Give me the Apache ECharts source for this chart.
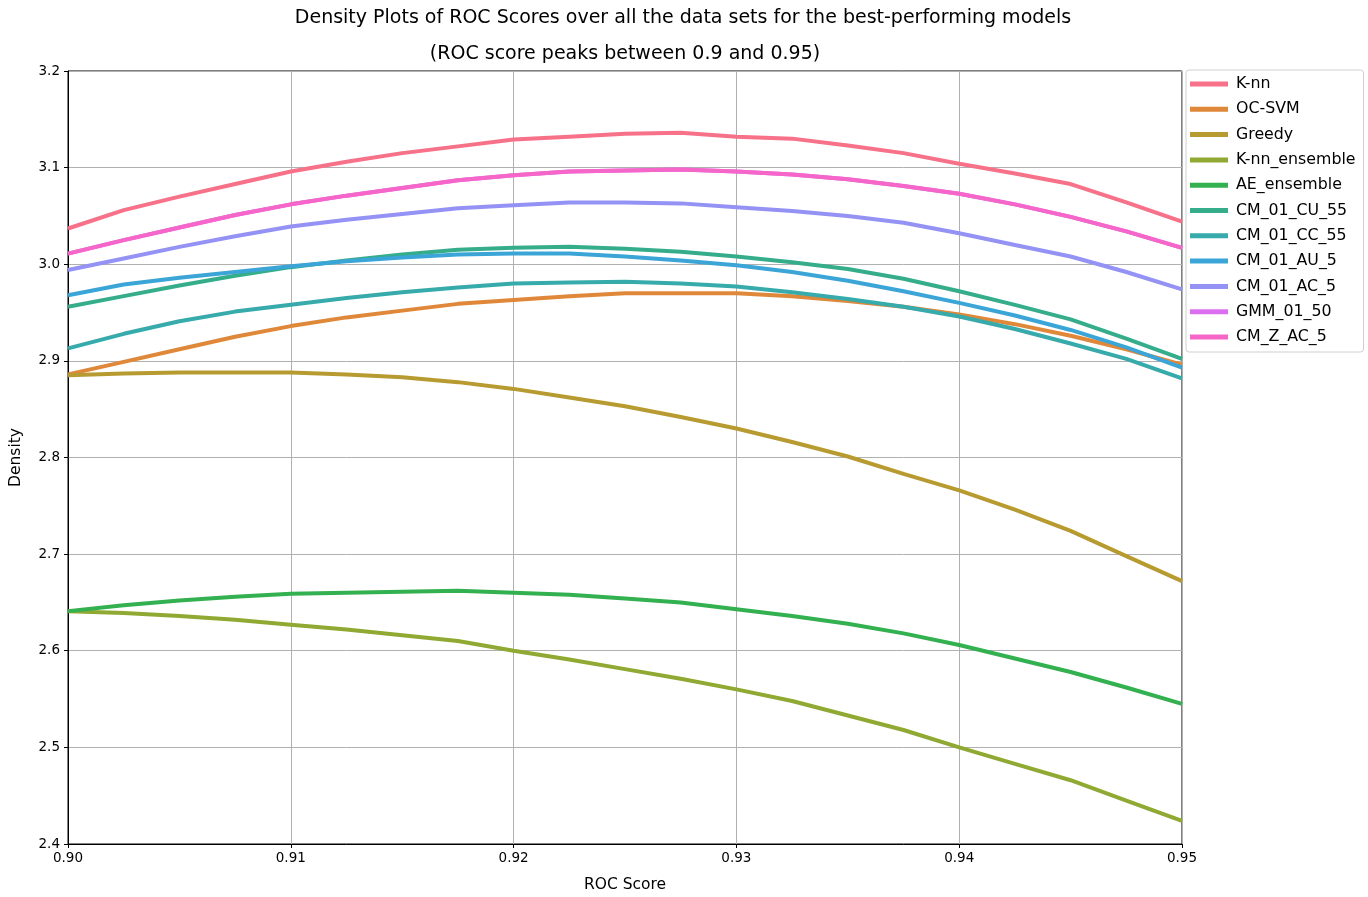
<!DOCTYPE html>
<html>
<head>
<meta charset="utf-8">
<script src="https://cdn.jsdelivr.net/npm/echarts@6/dist/echarts.min.js"></script>
<style>
html,body{margin:0;padding:0;background:#fff;}
#chart{width:1368px;height:897px;}
</style>
</head>
<body>
<div id="chart"></div>
<script>
// ROC score grid (x values)
const xValues = [0.9000,0.9025,0.9050,0.9075,0.9100,0.9125,0.9150,0.9175,0.9200,0.9225,0.9250,0.9275,0.9300,0.9325,0.9350,0.9375,0.9400,0.9425,0.9450,0.9475,0.9500];

const seriesNames = ["K-nn","OC-SVM","Greedy","K-nn_ensemble","AE_ensemble","CM_01_CU_55","CM_01_CC_55","CM_01_AU_5","CM_01_AC_5","GMM_01_50","CM_Z_AC_5"];

const knn        = [3.037,3.056,3.070,3.083,3.096,3.106,3.115,3.122,3.129,3.132,3.135,3.136,3.132,3.130,3.123,3.115,3.104,3.094,3.083,3.064,3.044];
const ocsvm      = [2.886,2.899,2.912,2.925,2.936,2.945,2.952,2.959,2.963,2.967,2.970,2.970,2.970,2.967,2.962,2.956,2.948,2.938,2.926,2.912,2.896];
const greedy     = [2.885,2.887,2.888,2.888,2.888,2.886,2.883,2.878,2.871,2.862,2.853,2.842,2.830,2.816,2.801,2.783,2.766,2.746,2.724,2.698,2.672];
const knnEns     = [2.641,2.639,2.636,2.632,2.627,2.622,2.616,2.610,2.600,2.591,2.581,2.571,2.560,2.548,2.533,2.518,2.500,2.483,2.466,2.445,2.424];
const aeEns      = [2.641,2.647,2.652,2.656,2.659,2.660,2.661,2.662,2.660,2.658,2.654,2.650,2.643,2.636,2.628,2.618,2.606,2.592,2.578,2.562,2.545];
const cmCU55     = [2.956,2.967,2.978,2.988,2.997,3.004,3.010,3.015,3.017,3.018,3.016,3.013,3.008,3.002,2.995,2.985,2.972,2.958,2.943,2.923,2.902];
const cmCC55     = [2.913,2.928,2.941,2.951,2.958,2.965,2.971,2.976,2.980,2.981,2.982,2.980,2.977,2.971,2.964,2.956,2.946,2.933,2.918,2.902,2.882];
const cmAU5      = [2.968,2.979,2.986,2.992,2.998,3.003,3.007,3.010,3.011,3.011,3.008,3.004,2.999,2.992,2.983,2.972,2.960,2.947,2.932,2.914,2.893];
const cmAC5      = [2.994,3.006,3.018,3.029,3.039,3.046,3.052,3.058,3.061,3.064,3.064,3.063,3.059,3.055,3.050,3.043,3.032,3.020,3.008,2.992,2.974];
const gmm0150    = [3.011,3.025,3.038,3.051,3.062,3.071,3.079,3.087,3.092,3.096,3.097,3.098,3.096,3.093,3.088,3.081,3.073,3.062,3.049,3.034,3.017];
const cmZAC5     = [3.011,3.025,3.038,3.051,3.062,3.071,3.079,3.087,3.092,3.096,3.097,3.098,3.096,3.093,3.088,3.081,3.073,3.062,3.049,3.034,3.017];

const seriesValues = [knn, ocsvm, greedy, knnEns, aeEns, cmCU55, cmCC55, cmAU5, cmAC5, gmm0150, cmZAC5];
const colors = ["#f77189","#e0883a","#b79b31","#8fa933","#33b04f","#35ad8b","#37aaab","#3aa5d6","#9492f4","#dc6ff0","#f666c8"];

const yTicks = [2.4, 3.2, 0.1];
const xTicks = [0.90, 0.95, 0.01];

const FONT = "DejaVu Sans";

const chart = echarts.init(document.getElementById('chart'), null, {renderer: 'canvas'});

const series = seriesNames.map((name, i) => ({
  name: name,
  type: 'line',
  data: xValues.map((x, j) => [x, seriesValues[i][j]]),
  showSymbol: false,
  symbol: 'none',
  smooth: false,
  lineStyle: {width: 4, color: colors[i]},
  itemStyle: {color: colors[i]},
  emphasis: {disabled: true},
  animation: false
}));

const option = {
  backgroundColor: '#ffffff',
  animation: false,
  textStyle: {fontFamily: FONT},
  graphic: [
    {type: 'text', x: 683, y: 18, silent: true,
     style: {text: 'Density Plots of ROC Scores over all the data sets for the best-performing models',
             fill: '#000', font: '19px "DejaVu Sans"', textAlign: 'center', textVerticalAlign: 'middle'}},
    {type: 'text', x: 625, y: 54, silent: true,
     style: {text: '(ROC score peaks between 0.9 and 0.95)',
             fill: '#000', font: '19px "DejaVu Sans"', textAlign: 'center', textVerticalAlign: 'middle'}}
  ],
  grid: {left: 68, right: 186, top: 71, bottom: 53, outerBoundsMode: 'none', containLabel: false,
         show: true, borderColor: '#000', borderWidth: 1, backgroundColor: 'transparent'},
  legend: {
    orient: 'vertical',
    left: 1186, top: 70,
    data: seriesNames,
    icon: 'rect',
    itemWidth: 38, itemHeight: 5,
    itemGap: 9.3,
    padding: [6, 8, 7, 4],
    borderColor: '#d0d0d0', borderWidth: 1, borderRadius: 3,
    backgroundColor: '#fff',
    textStyle: {fontFamily: FONT, fontSize: 15.8, color: '#000', padding: [0,0,0,3]},
    selectedMode: false
  },
  xAxis: {
    type: 'value',
    min: xTicks[0], max: xTicks[1], interval: xTicks[2],
    name: 'ROC Score', nameLocation: 'middle', nameGap: 33,
    nameTextStyle: {fontFamily: FONT, fontSize: 15.5, color: '#000'},
    axisLine: {show: true, onZero: false, lineStyle: {color: '#000', width: 1}},
    axisTick: {show: true, length: 4, lineStyle: {color: '#000'}},
    axisLabel: {fontFamily: FONT, fontSize: 13.5, color: '#000', margin: 7, formatter: v => v.toFixed(2)},
    splitLine: {show: true, lineStyle: {color: '#b0b0b0', width: 1}}
  },
  yAxis: {
    type: 'value',
    min: yTicks[0], max: yTicks[1], interval: yTicks[2],
    name: 'Density', nameLocation: 'middle', nameGap: 44,
    nameTextStyle: {fontFamily: FONT, fontSize: 15.5, color: '#000'},
    axisLine: {show: true, onZero: false, lineStyle: {color: '#000', width: 1}},
    axisTick: {show: true, length: 4, lineStyle: {color: '#000'}},
    axisLabel: {fontFamily: FONT, fontSize: 13.5, color: '#000', margin: 8, formatter: v => v.toFixed(1)},
    splitLine: {show: true, lineStyle: {color: '#b0b0b0', width: 1}}
  },
  series: series
};

chart.setOption(option);
</script>
</body>
</html>
